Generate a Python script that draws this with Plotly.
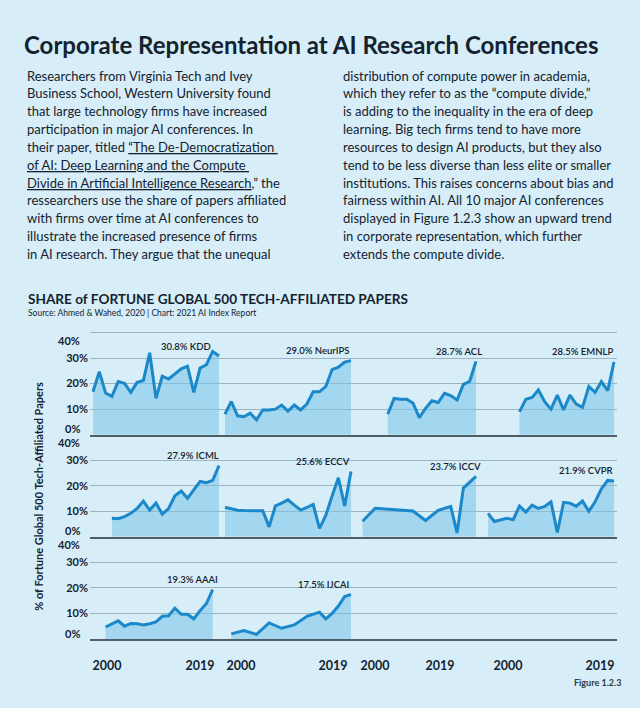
import plotly.graph_objects as go

# ---------------- data ----------------
kdd_years = list(range(1999, 2020))
kdd = [16.8, 24.7, 16.3, 15.0, 20.8, 20.1, 16.6, 20.5, 21.2, 32.1, 14.2, 22.9, 21.8, 23.7, 25.8, 26.8, 16.6, 26.1, 27.4, 32.6, 30.8]

neurips_years = list(range(1999, 2020))
neurips = [8.0, 13.0, 7.4, 7.0, 8.4, 5.8, 9.7, 9.7, 10.0, 11.6, 9.2, 11.6, 9.7, 12.0, 16.8, 16.8, 18.9, 25.5, 26.4, 28.4, 29.0]

acl_years = list(range(2005, 2020))
acl = [8.0, 14.2, 13.9, 13.9, 12.4, 6.7, 10.3, 13.3, 12.6, 16.2, 15.3, 13.6, 19.7, 20.9, 28.7]

emnlp_years = list(range(2004, 2020))
emnlp = [8.9, 13.9, 14.6, 17.5, 12.9, 10.0, 15.5, 9.7, 15.5, 12.0, 10.7, 18.9, 16.6, 20.8, 17.2, 28.5]

icml_years = list(range(2002, 2020))
icml = [7.3, 7.1, 7.9, 9.2, 11.1, 14.0, 10.5, 13.2, 8.9, 11.1, 16.1, 17.9, 15.1, 18.4, 21.7, 21.2, 22.1, 27.9]

eccv_years = list(range(1999, 2020))
eccv = [11.6, 11.1, 10.4, 10.3, 10.3, 10.3, 10.2, 3.9, 12.1, 13.2, 14.5, 12.4, 10.5, 11.5, 12.7, 3.3, 8.4, 16.0, 23.1, 12.1, 25.6]

iccv_years = [2001, 2003, 2009, 2011, 2013, 2015, 2016, 2017, 2019]
iccv = [6.1, 11.2, 10.1, 6.4, 10.4, 11.9, 1.5, 19.1, 23.7]

cvpr_years = [1999, 2000, 2002, 2003, 2004, 2005, 2006, 2007, 2008, 2009, 2010,
              2011, 2012, 2013, 2014, 2015, 2016, 2017, 2018, 2019]
cvpr = [9.2, 6.0, 7.3, 6.7, 12.1, 9.7, 12.4, 11.1, 11.9, 13.7, 1.7, 13.5, 13.2, 12.0, 14.0, 10.0, 13.7, 18.8, 22.1, 21.9]

aaai_years = list(range(2001, 2019))
aaai = [4.7, 5.9, 7.1, 5.0, 6.1, 6.0, 5.5, 6.0, 6.7, 8.9, 9.1, 12.1, 9.7, 9.7, 7.9, 11.1, 13.9, 19.3]

ijcai_years = [2000, 2002, 2004, 2006, 2008, 2010, 2012, 2014, 2015, 2016, 2017, 2018, 2019]
ijcai = [2.0, 3.3, 1.8, 6.3, 4.2, 5.5, 8.9, 10.5, 7.9, 10.0, 12.9, 16.6, 17.5]

conferences = ["KDD", "NeurIPS", "ACL", "EMNLP", "ICML", "ECCV", "ICCV", "CVPR", "AAAI", "IJCAI"]
final_shares = ["30.8%", "29.0%", "28.7%", "28.5%", "27.9%", "25.6%", "23.7%", "21.9%", "19.3%", "17.5%"]
series_years = [kdd_years, neurips_years, acl_years, emnlp_years, icml_years,
                eccv_years, iccv_years, cvpr_years, aaai_years, ijcai_years]
series_values = [kdd, neurips, acl, emnlp, icml, eccv, iccv, cvpr, aaai, ijcai]

y_mid_ticks = [10, 20, 30]
y_mid_text = ["10%", "20%", "30%"]
y_low, y_low_text = 0, "0%"
y_high, y_high_text = 40, "40%"
x_tick_text = ["2000", "2019", "2000", "2019", "2000", "2019", "2000", "2019"]

title = "Corporate Representation at AI Research Conferences"
left_lines = [
    "Researchers from Virginia Tech and Ivey",
    "Business School, Western University found",
    "that large technology firms have increased",
    "participation in major AI conferences. In",
    "their paper, titled <u>“The De-Democratization </u>",
    "<u>of AI: Deep Learning and the Compute </u>",
    "<u>Divide in Artificial Intelligence Research</u>,” the",
    "ressearchers use the share of papers affiliated",
    "with firms over time at AI conferences to",
    "illustrate the increased presence of firms",
    "in AI research. They argue that the unequal",
]
right_lines = [
    "distribution of compute power in academia,",
    "which they refer to as the “compute divide,”",
    "is adding to the inequality in the era of deep",
    "learning. Big tech firms tend to have more",
    "resources to design AI products, but they also",
    "tend to be less diverse than less elite or smaller",
    "institutions. This raises concerns about bias and",
    "fairness within AI. All 10 major AI conferences",
    "displayed in Figure 1.2.3 show an upward trend",
    "in corporate representation, which further",
    "extends the compute divide.",
]
chart_title = "SHARE of FORTUNE GLOBAL 500 TECH-AFFILIATED PAPERS"
source = "Source: Ahmed & Wahed, 2020 | Chart: 2021 AI Index Report"
y_title = "% of Fortune Global 500 Tech-Affiliated Papers"
fig_label = "Figure 1.2.3"

# ---------------- layout / style ----------------
W, H = 640, 708
L, R = 90, 23
PW = W - L - R
PX_PER_YEAR = 6.3
PX_PER_PCT = 2.55
ROW_BASE_PX = [435, 537, 639]          # pixel row of 0% in each panel row
ROW_TOP = [40.6, 40, 40]               # upper end of each row's y range
ROW_TOP_PX = [b - t * PX_PER_PCT for b, t in zip(ROW_BASE_PX, ROW_TOP)]
T = ROW_TOP_PX[0]
B = H - ROW_BASE_PX[2]
PH = H - T - B
X0 = 1999 - 3 / PX_PER_YEAR            # axis value at left edge of plot
COL_SHIFT = [0, 20.95, 40.79, 62.7]    # horizontal shift of each panel column (axis units)
PANEL_POS = [(0, 0), (0, 1), (0, 2), (0, 3), (1, 0), (1, 1), (1, 2), (1, 3), (2, 0), (2, 1)]
LABEL_XSHIFT = [-6, 1, 8, 1, 2, 1, 7, 1, 7, 0]
TICK_PX = [107, 200, 241, 333, 375, 440, 508, 600]

BG = "#d7eef8"
LINE = "#1a88c9"
FILL = "rgba(120,196,232,0.55)"
GRID = "#9db3bf"
BASE = "#4f5d67"
DARK = "#14222f"
FONT = "Lato"


def px_x(px):
    return (px - L) / PW


def px_y(py):
    return (H - B - py) / PH


def ax_x(px):
    return X0 + (px - L) / PX_PER_YEAR


fig = go.Figure()
row_axes = [("x", "y"), ("x2", "y2"), ("x3", "y3")]

for i, name in enumerate(conferences):
    row, col = PANEL_POS[i]
    xa, ya = row_axes[row]
    xs = [yr + COL_SHIFT[col] for yr in series_years[i]]
    fig.add_trace(go.Scatter(
        x=xs, y=series_values[i], mode="lines", fill="tozeroy",
        fillcolor=FILL, line=dict(color=LINE, width=3),
        xaxis=xa, yaxis=ya, hoverinfo="skip", showlegend=False))
    fig.add_annotation(
        x=xs[-1], y=series_values[i][-1], xref=xa, yref=ya,
        text=f"{final_shares[i]} {name}", showarrow=False,
        xanchor="right", yanchor="middle", xshift=LABEL_XSHIFT[i], yshift=10,
        font=dict(family=FONT, size=9.5, color=DARK, weight=600))

x_range = [X0, X0 + PW / PX_PER_YEAR]
common_x = dict(range=x_range, showgrid=False, zeroline=False, showline=True,
                linecolor=BASE, linewidth=2, fixedrange=True, ticks="")
fig.update_layout(
    xaxis=dict(common_x, anchor="y", showticklabels=False),
    xaxis2=dict(common_x, anchor="y2", matches="x", showticklabels=False),
    xaxis3=dict(common_x, anchor="y3", matches="x", showticklabels=True,
                tickvals=[ax_x(p) for p in TICK_PX], ticktext=x_tick_text,
                ticklabelstandoff=14,
                tickfont=dict(family=FONT, size=12.5, color=DARK, weight="bold")),
)

tickfont = dict(family=FONT, size=11, color=DARK, weight="bold")
for r in range(3):
    xa, ya = row_axes[r]
    yname = "yaxis" if r == 0 else f"yaxis{r + 1}"
    d0 = (H - B - ROW_BASE_PX[r]) / PH
    d1 = (H - B - ROW_TOP_PX[r]) / PH
    # first row also shows the top (40%) gridline; lower rows meet the row above
    tv = y_mid_ticks + ([y_high] if r == 0 else [])
    tt = y_mid_text + ([""] if r == 0 else [])
    fig.layout[yname] = dict(domain=[max(0, d0), min(1, d1)], anchor=xa,
                             range=[0, ROW_TOP[r]], tickvals=tv, ticktext=tt,
                             showgrid=True, gridcolor=GRID, gridwidth=1, zeroline=False,
                             showline=False, ticks="", ticklabelstandoff=1,
                             tickfont=tickfont, fixedrange=True)
    # end labels of each band sit just inside the band, as in the original design
    fig.add_annotation(x=0, xref="paper", y=y_high, yref=ya, text=y_high_text,
                       showarrow=False, xanchor="right", yanchor="middle",
                       xshift=-8, yshift=-8, font=tickfont)
    fig.add_annotation(x=0, xref="paper", y=y_low, yref=ya, text=y_low_text,
                       showarrow=False, xanchor="right", yanchor="middle",
                       xshift=-8, yshift=6, font=tickfont)

# text blocks
fig.add_annotation(x=px_x(22), y=px_y(45), xref="paper", yref="paper", text=f"<b>{title}</b>",
                   showarrow=False, xanchor="left", yanchor="middle",
                   font=dict(family=FONT, size=24, color=DARK))
LINE_H = 17.8
for k, txt in enumerate(left_lines):
    fig.add_annotation(x=px_x(25), y=px_y(76.5 + k * LINE_H), xref="paper", yref="paper",
                       text=txt, showarrow=False, xanchor="left", yanchor="middle",
                       font=dict(family=FONT, size=13, color=DARK))
for k, txt in enumerate(right_lines):
    fig.add_annotation(x=px_x(341), y=px_y(76.5 + k * LINE_H), xref="paper", yref="paper",
                       text=txt, showarrow=False, xanchor="left", yanchor="middle",
                       font=dict(family=FONT, size=13, color=DARK))
fig.add_annotation(x=px_x(26), y=px_y(300), xref="paper", yref="paper", text=chart_title,
                   showarrow=False, xanchor="left", yanchor="middle",
                   font=dict(family=FONT, size=13.6, color=DARK, weight="bold"))
fig.add_annotation(x=px_x(26), y=px_y(313.5), xref="paper", yref="paper", text=source,
                   showarrow=False, xanchor="left", yanchor="middle",
                   font=dict(family=FONT, size=8.5, color=DARK))
fig.add_annotation(x=px_x(39), y=px_y(497), xref="paper", yref="paper", text=y_title,
                   showarrow=False, textangle=-90, xanchor="center", yanchor="middle",
                   font=dict(family=FONT, size=11, color=DARK, weight="bold"))
fig.add_annotation(x=px_x(623), y=px_y(682), xref="paper", yref="paper", text=fig_label,
                   showarrow=False, xanchor="right", yanchor="middle",
                   font=dict(family=FONT, size=9, color="#2b3a4a", weight="bold"))

fig.update_layout(width=W, height=H, margin=dict(l=L, r=R, t=T, b=B, autoexpand=False),
                  paper_bgcolor=BG, plot_bgcolor=BG, showlegend=False,
                  font=dict(family=FONT, color=DARK))

fig.write_html("out.html", config={"displayModeBar": False},
               post_script="document.body.style.margin='0';document.body.style.background='" + BG + "';")
